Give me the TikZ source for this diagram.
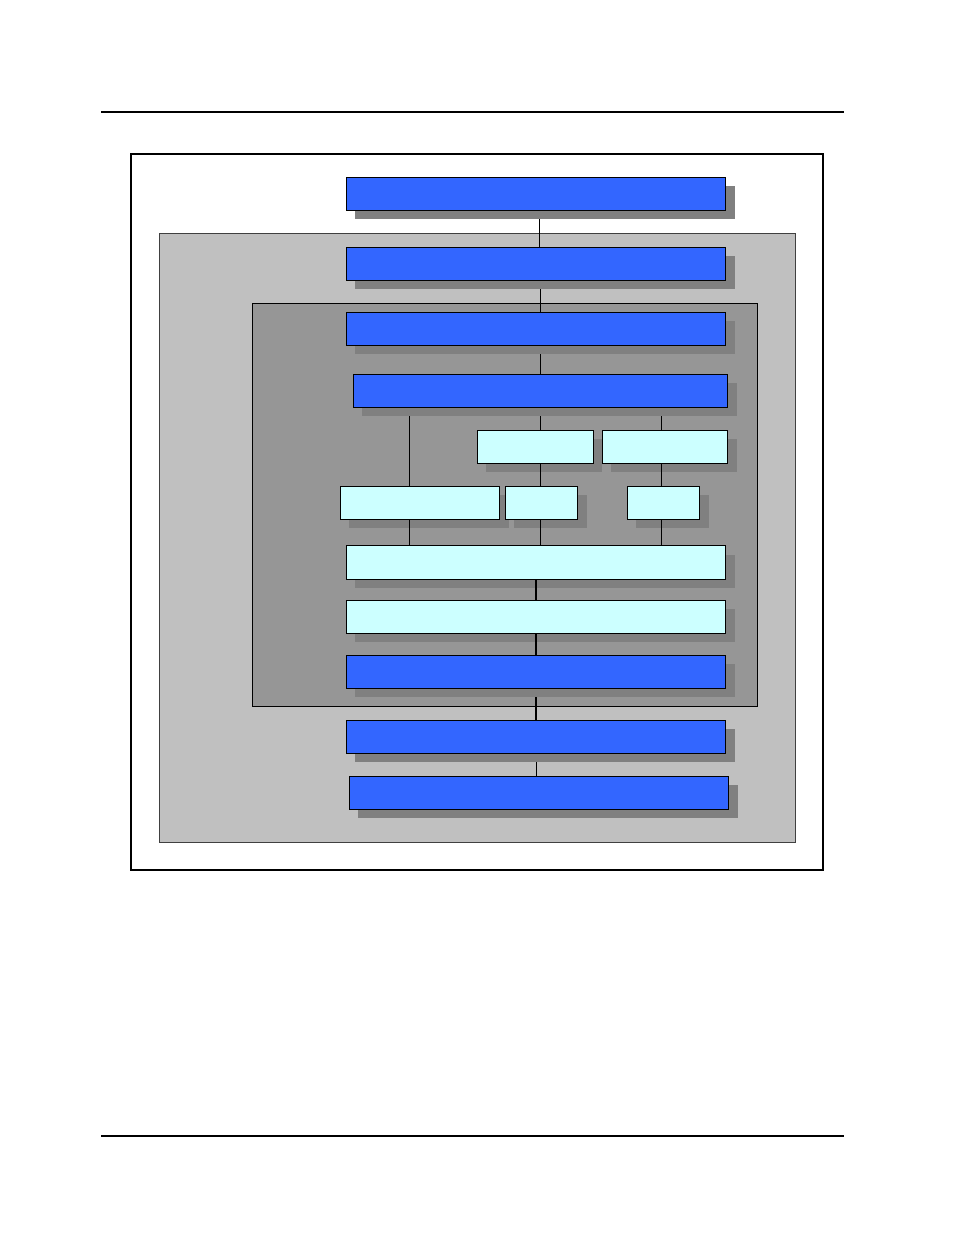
\documentclass[tikz,border=0pt]{standalone}
\usetikzlibrary{shadows}
\definecolor{boxblue}{HTML}{3366FF}
\definecolor{boxcyan}{HTML}{CCFFFF}
\definecolor{shadowgray}{HTML}{808080}
\definecolor{lightpanel}{HTML}{C0C0C0}
\definecolor{darkpanel}{HTML}{969696}
\definecolor{paneledge}{HTML}{404040}
\pgfdeclarelayer{bg}
\pgfdeclarelayer{lines}
\pgfsetlayers{bg,lines,main}
\newcommand\rbox[6]{\node[#1,minimum width={#5pt-#3pt},minimum height={#6pt-#4pt}] (#2) at (#3,#4) {};}
\begin{document}
\begin{tikzpicture}[x=1pt,y=-1pt,
  box/.style={draw=black,line width=0.8pt,inner sep=0pt,outer sep=0pt,anchor=north west,
    drop shadow={shadow xshift=9pt,shadow yshift=-9pt,fill=shadowgray,opacity=1}},
  bluebox/.style={box,fill=boxblue},
  cyanbox/.style={box,fill=boxcyan},
  conn/.style={draw=black,line width=0.9pt},
  thickconn/.style={draw=black,line width=2.2pt}]
\useasboundingbox (0,0) rectangle (954,1235);
% rules and frame
\draw[line width=2pt] (101,112) -- (844,112);
\draw[line width=1.2pt] (101,1136) -- (844,1136);
\draw[line width=2pt] (131,153.7) rectangle (823,870);
% panels
\begin{pgfonlayer}{bg}
\draw[fill=lightpanel,draw=paneledge,line width=1pt] (159.3,233.3) rectangle (795.3,842);
\draw[fill=darkpanel,draw=black,line width=1.4pt] (252.3,303.7) rectangle (757.3,706.3);
\end{pgfonlayer}
% connector columns
\coordinate (xa) at (539.5,0);
\coordinate (xb) at (540.3,0);
\coordinate (xl) at (409.3,0);
\coordinate (xr) at (661.3,0);
\coordinate (xc) at (536.3,0);
\coordinate (xd) at (536.7,0);
% boxes
\rbox{bluebox}{b1}{346.3}{177.3}{725.7}{210.3}
\rbox{bluebox}{b2}{346.3}{247.3}{725.7}{280.3}
\rbox{bluebox}{b3}{346.3}{312.3}{725.7}{345.3}
\rbox{bluebox}{b4}{353.3}{374.3}{727.7}{407}
\rbox{cyanbox}{c1}{477.3}{430.3}{593.3}{463.3}
\rbox{cyanbox}{c2}{602.3}{430.3}{727.7}{463.3}
\rbox{cyanbox}{c3}{340.3}{486.3}{499.7}{519.3}
\rbox{cyanbox}{c4}{505.3}{486.3}{577.7}{519.3}
\rbox{cyanbox}{c5}{627.3}{486.3}{699.7}{519.3}
\rbox{cyanbox}{w1}{346.3}{545.7}{725.7}{579}
\rbox{cyanbox}{w2}{346.3}{600.3}{725.7}{633.3}
\rbox{bluebox}{b9}{346.3}{655.3}{725.7}{688.3}
\rbox{bluebox}{b10}{346.3}{720.3}{725.7}{753.3}
\rbox{bluebox}{b11}{349.3}{776.3}{728.7}{809.3}
% connectors that run over the shadows of the row above
\draw[conn] (c1.south -| xb) -- (c4.north -| xb);
\draw[conn] (c2.south -| xr) -- (c5.north -| xr);
\draw[conn] (c3.south -| xl) -- (w1.north -| xl);
\draw[conn] (c4.south -| xb) -- (w1.north -| xb);
\draw[conn] (c5.south -| xr) -- (w1.north -| xr);
\draw[thickconn] (w1.south -| xc) -- (w2.north -| xc);
\draw[thickconn] (w2.south -| xc) -- (b9.north -| xc);
% connectors behind the shadows
\begin{pgfonlayer}{lines}
\draw[conn] (b1.south -| xa) -- (b2.north -| xa);
\draw[conn] (b2.south -| xb) -- (b3.north -| xb);
\draw[conn] (b3.south -| xb) -- (b4.north -| xb);
\draw[conn] (b4.south -| xl) -- (c3.north -| xl);
\draw[conn] (b4.south -| xb) -- (c1.north -| xb);
\draw[conn] (b4.south -| xr) -- (c2.north -| xr);
\draw[thickconn] (b9.south -| xc) -- (b10.north -| xc);
\draw[conn] (b10.south -| xd) -- (b11.north -| xd);
\end{pgfonlayer}
\end{tikzpicture}
\end{document}
